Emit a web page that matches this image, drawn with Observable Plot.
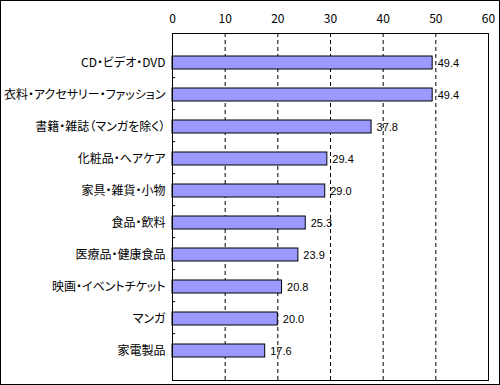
<!DOCTYPE html>
<html><head><meta charset="utf-8">
<script src="https://cdn.jsdelivr.net/npm/d3@7"></script>
<script src="https://cdn.jsdelivr.net/npm/@observablehq/plot@0.6"></script>
<style>
body{margin:0;background:#fff;}
#chart svg{outline:1px solid #000;outline-offset:-1px;display:block;}
#chart text{font-feature-settings:"palt";}
</style></head>
<body><div id="chart"></div>
<script>
const categories = ["CD・ビデオ・DVD","衣料・アクセサリー・ファッション","書籍・雑誌（マンガを除く）","化粧品・ヘアケア","家具・雑貨・小物","食品・飲料","医療品・健康食品","映画・イベントチケット","マンガ","家電製品"];
const values = [49.4,49.4,37.8,29.4,29.0,25.3,23.9,20.8,20.0,17.6];
const xTicks = [0,10,20,30,40,50,60];
const data = categories.map((c,i)=>({category:c,value:values[i]}));
const W=500,H=385,mT=33,mB=5,mL=172,mR=12;
const step=(H-mT-mB)/categories.length;
const chart = Plot.plot({
  width:W,height:H,marginTop:mT,marginBottom:mB,marginLeft:mL,marginRight:mR,
  style:{fontFamily:"'Noto Sans CJK JP', sans-serif",fontSize:"12px",color:"#000",background:"#fff"},
  x:{domain:[0,60],axis:"top",ticks:xTicks,tickSize:0,tickPadding:11,label:null,tickFormat:d=>d},
  y:{domain:categories,padding:0.58,tickSize:0,tickPadding:7,label:null},
  marks:[
    Plot.ruleX(xTicks.filter(d=>d>0&&d<60),{stroke:"#000",strokeDasharray:"4,3",strokeWidth:1}),
    Plot.ruleY(categories.slice(1),{x1:0,x2:0.6,dy:-step/2,stroke:"#000"}),
    Plot.barX(data,{y:"category",x:"value",fill:"#9999ff",stroke:"#000",strokeWidth:1}),
    Plot.text(data,{y:"category",x:"value",text:d=>d.value.toFixed(1),textAnchor:"start",dx:5,fill:"#000",fontFamily:"Arial, 'Liberation Sans', sans-serif",fontSize:11}),
    Plot.frame({stroke:"#000"})
  ]
});
document.getElementById("chart").append(chart);
</script></body></html>
